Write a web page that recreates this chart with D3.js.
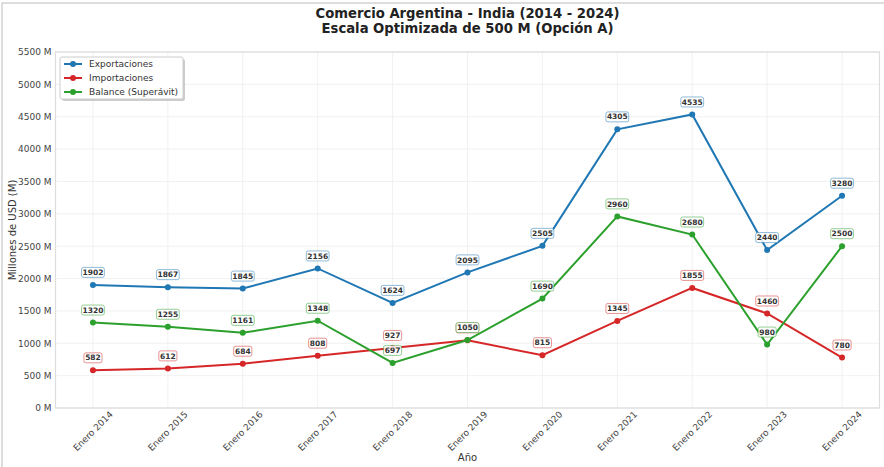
<!DOCTYPE html>
<html>
<head>
<meta charset="utf-8">
<script src="https://cdn.jsdelivr.net/npm/d3@7"></script>
<style>
  body { margin: 0; background: #fff; }
  svg { font-family: "DejaVu Sans", sans-serif; }
</style>
</head>
<body>
<div class="chart"></div>
<script>
const years = ["Enero 2014","Enero 2015","Enero 2016","Enero 2017","Enero 2018","Enero 2019",
               "Enero 2020","Enero 2021","Enero 2022","Enero 2023","Enero 2024"];
const exportaciones = [1902,1867,1845,2156,1624,2095,2505,4305,4535,2440,3280];
const importaciones = [582,612,684,808,927,1045,815,1345,1855,1460,780];
const balance = [1320,1255,1161,1348,697,1050,1690,2960,2680,980,2500];
const yTicks = [0,500,1000,1500,2000,2500,3000,3500,4000,4500,5000,5500];

const series = [
    {name: "Exportaciones", values: exportaciones, color: "#1f77b4"},
    {name: "Importaciones", values: importaciones, color: "#d62728"},
    {name: "Balance (Superávit)", values: balance, color: "#2ca02c"}
];

const width = 884, height = 467;
const plotLeft = 55.5, plotRight = 879.5, plotTop = 52, plotBottom = 408;

const svg = d3.select('.chart')
    .append('svg')
    .attr('width', width)
    .attr('height', height);

// figure border (only top/left visible)
svg.append('rect')
    .attr('x', 2).attr('y', 3)
    .attr('width', 900).attr('height', 500)
    .attr('fill', 'none')
    .attr('stroke', '#bbb');

const x = d3.scalePoint().domain(years).range([plotLeft, plotRight]).padding(0.5);
const y = d3.scaleLinear().domain([0, 5500]).range([plotBottom, plotTop]);

// grid
svg.append('g')
    .selectAll('line')
    .data(yTicks)
    .enter()
    .append('line')
    .attr('x1', plotLeft).attr('x2', plotRight)
    .attr('y1', d => y(d)).attr('y2', d => y(d))
    .attr('stroke', '#eeeeee').attr('stroke-width', 0.8);
svg.append('g')
    .selectAll('line')
    .data(years)
    .enter()
    .append('line')
    .attr('x1', d => x(d)).attr('x2', d => x(d))
    .attr('y1', plotTop).attr('y2', plotBottom)
    .attr('stroke', '#eeeeee').attr('stroke-width', 0.8);

// spines
svg.append('rect')
    .attr('x', plotLeft).attr('y', plotTop)
    .attr('width', plotRight - plotLeft).attr('height', plotBottom - plotTop)
    .attr('fill', 'none')
    .attr('stroke', '#dddddd')
    .attr('stroke-width', 1.2);

// y axis
const yAxis = d3.axisLeft(y)
    .tickValues(yTicks)
    .tickSize(0)
    .tickPadding(4)
    .tickFormat(d => d + ' M');
svg.append('g')
    .attr('transform', `translate(${plotLeft},0)`)
    .call(yAxis)
    .call(g => g.select('.domain').remove())
    .selectAll('text')
    .attr('font-size', 9)
    .attr('font-family', 'DejaVu Sans')
    .attr('fill', '#444');

// x tick labels
svg.append('g')
    .selectAll('text')
    .data(years)
    .enter()
    .append('text')
    .attr('transform', d => `translate(${x(d)},${plotBottom + 23}) rotate(-45)`)
    .attr('text-anchor', 'middle')
    .attr('dy', '0.35em')
    .attr('font-size', 9)
    .attr('fill', '#444')
    .text(d => d);

// axis labels
svg.append('text')
    .attr('x', (plotLeft + plotRight) / 2)
    .attr('y', 461)
    .attr('text-anchor', 'middle')
    .attr('font-size', 10)
    .attr('fill', '#333')
    .text('Año');
svg.append('text')
    .attr('transform', `translate(16,${(plotTop + plotBottom) / 2}) rotate(-90)`)
    .attr('text-anchor', 'middle')
    .attr('font-size', 10)
    .attr('fill', '#333')
    .text('Millones de USD (M)');

// title
svg.append('text')
    .attr('x', (plotLeft + plotRight) / 2)
    .attr('y', 18)
    .attr('text-anchor', 'middle')
    .attr('font-size', 13.2)
    .attr('font-weight', 'bold')
    .attr('fill', '#222')
    .text('Comercio Argentina - India (2014 - 2024)');
svg.append('text')
    .attr('x', (plotLeft + plotRight) / 2)
    .attr('y', 33)
    .attr('text-anchor', 'middle')
    .attr('font-size', 13.2)
    .attr('font-weight', 'bold')
    .attr('fill', '#222')
    .text('Escala Optimizada de 500 M (Opción A)');

// lines
const line = d3.line()
    .x((d, i) => x(years[i]))
    .y(d => y(d));

series.forEach(s => {
    svg.append('path')
        .datum(s.values)
        .attr('d', line)
        .attr('fill', 'none')
        .attr('stroke', s.color)
        .attr('stroke-width', 2);
    svg.append('g')
        .selectAll('circle')
        .data(s.values)
        .enter()
        .append('circle')
        .attr('cx', (d, i) => x(years[i]))
        .attr('cy', d => y(d))
        .attr('r', 3)
        .attr('fill', s.color);
});

// value labels
series.forEach(s => {
    const g = svg.append('g')
        .selectAll('g')
        .data(s.values)
        .enter()
        .append('g')
        .attr('transform', (d, i) => `translate(${x(years[i])},${y(d) - 12.5})`);
    g.append('rect')
        .attr('x', d => -(String(d).length * 4.7 + 4) / 2)
        .attr('y', -5)
        .attr('width', d => String(d).length * 4.7 + 4)
        .attr('height', 10)
        .attr('rx', 2)
        .attr('fill', 'white')
        .attr('fill-opacity', 0.85)
        .attr('stroke', s.color)
        .attr('stroke-opacity', 0.5)
        .attr('stroke-width', 1);
    g.append('text')
        .attr('text-anchor', 'middle')
        .attr('dy', '0.35em')
        .attr('font-size', 7.5)
        .attr('font-weight', 'bold')
        .attr('fill', '#333')
        .text(d => d);
});

// legend
const legend = svg.append('g').attr('transform', 'translate(60,57)');
legend.append('rect')
    .attr('x', 2).attr('y', 2)
    .attr('width', 123).attr('height', 42)
    .attr('rx', 2)
    .attr('fill', '#999').attr('fill-opacity', 0.5);
legend.append('rect')
    .attr('width', 123).attr('height', 42)
    .attr('rx', 2)
    .attr('fill', 'white')
    .attr('stroke', '#ccc');
const item = legend.selectAll('g.item')
    .data(series)
    .enter()
    .append('g')
    .attr('class', 'item')
    .attr('transform', (d, i) => `translate(0,${7 + i * 14})`);
item.append('line')
    .attr('x1', 4).attr('x2', 22)
    .attr('stroke', d => d.color)
    .attr('stroke-width', 2);
item.append('circle')
    .attr('cx', 13).attr('r', 3)
    .attr('fill', d => d.color);
item.append('text')
    .attr('x', 29)
    .attr('dy', '0.35em')
    .attr('font-size', 9)
    .attr('fill', '#333')
    .text(d => d.name);
</script>
</body>
</html>
